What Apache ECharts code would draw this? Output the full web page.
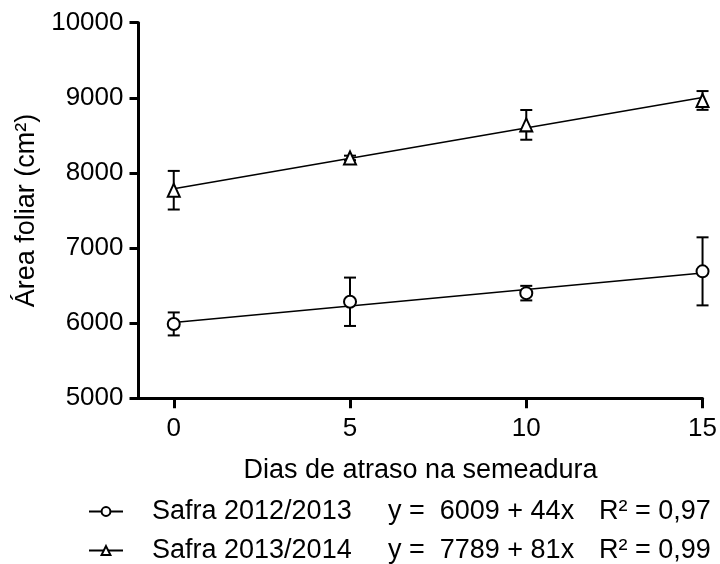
<!DOCTYPE html>
<html><head><meta charset="utf-8">
<script src="https://cdn.jsdelivr.net/npm/echarts@6/dist/echarts.min.js"></script>
<style>html,body{margin:0;padding:0;background:#fff}#c{width:720px;height:564px}</style>
</head><body><div id="c"></div>
<script>
const days = [0, 5, 10, 15];
const mean2012 = [5990, 6285, 6400, 6690];
const sd2012 = [153, 322, 97, 453];
const mean2013 = [7770, 8200, 8640, 8965];
const sd2013 = [257, 30, 198, 125];
const fitDays = [0, 15];
const fit2012 = [6009, 6669];
const fit2013 = [7789, 9004];
const xTicks = [0, 5, 10, 15];
const seriesNames = ['Safra 2012/2013', 'Safra 2013/2014'];
const equations = ['y =  6009 + 44x', 'y =  7789 + 81x'];
const r2Labels = ['R² = 0,97', 'R² = 0,99'];
const FONT = '"Liberation Sans", Arial, Helvetica, sans-serif';
const FS = 26;
const FS2 = 27;

function pairs(xs, ys) { return xs.map((x, i) => [x, ys[i]]); }
function errData(xs, m, s) { return xs.map((x, i) => [x, m[i] - s[i], m[i] + s[i]]); }

function errorSeries(name, data) {
  return {
    name: name, type: 'custom', data: data, z: 3, silent: true,
    encode: { x: 0, y: [1, 2] },
    renderItem: function (params, api) {
      const x = api.value(0);
      const lo = api.coord([x, api.value(1)]);
      const hi = api.coord([x, api.value(2)]);
      const hw = 6;
      const style = { stroke: '#000', lineWidth: 2, fill: null };
      return { type: 'group', children: [
        { type: 'line', shape: { x1: lo[0], y1: lo[1], x2: hi[0], y2: hi[1] }, style: style },
        { type: 'line', shape: { x1: lo[0] - hw, y1: lo[1], x2: lo[0] + hw, y2: lo[1] }, style: style },
        { type: 'line', shape: { x1: hi[0] - hw, y1: hi[1], x2: hi[0] + hw, y2: hi[1] }, style: style }
      ] };
    }
  };
}

function fitSeries(name, ys, sym) {
  return {
    name: name, type: 'line', z: 2, silent: true,
    symbol: sym, symbolSize: 12,
    data: fitDays.map((x, i) => ({ value: [x, ys[i]], symbol: 'none' })),
    lineStyle: { color: '#000', width: 1.5 },
    itemStyle: { color: '#000' }
  };
}

function markerSeries(name, data, sym, size) {
  return {
    name: name, type: 'scatter', z: 5, silent: true,
    symbol: sym, symbolSize: size, data: data,
    itemStyle: { color: '#fff', borderColor: '#000', borderWidth: 2, opacity: 1 }
  };
}

const chart = echarts.init(document.getElementById('c'), null, { renderer: 'canvas' });
chart.setOption({
  animation: false,
  backgroundColor: '#fff',
  textStyle: { fontFamily: FONT, color: '#000' },
  grid: { left: 138.5, right: 17.3, top: 22.7, bottom: 165.7, containLabel: false },
  xAxis: {
    type: 'value', min: -1, max: 15,
    name: 'Dias de atraso na semeadura', nameLocation: 'middle', nameGap: 59,
    nameTextStyle: { fontSize: FS2, fontFamily: FONT, color: '#000' },
    axisLine: { show: true, onZero: false, lineStyle: { color: '#000', width: 3 } },
    axisTick: { show: true, customValues: xTicks, length: 10, lineStyle: { color: '#000', width: 3 } },
    axisLabel: { show: true, customValues: xTicks, margin: 18, fontSize: FS, fontFamily: FONT, color: '#000',
      formatter: function (v) { return String(v); } },
    splitLine: { show: false }
  },
  yAxis: {
    type: 'value', min: 5000, max: 10000, interval: 1000,
    name: 'Área foliar (cm²)', nameLocation: 'middle', nameGap: 73,
    nameTextStyle: { fontSize: FS2, fontFamily: FONT, color: '#000' },
    axisLine: { show: true, onZero: false, lineStyle: { color: '#000', width: 3 } },
    axisTick: { show: true, length: 9, lineStyle: { color: '#000', width: 3 } },
    axisLabel: { show: true, margin: 15, fontSize: FS, fontFamily: FONT, color: '#000',
      formatter: function (v) { return String(v); } },
    splitLine: { show: false }
  },
  legend: {
    data: seriesNames, orient: 'vertical', left: 88, top: 498, padding: 0,
    itemWidth: 34, itemHeight: 11, itemGap: 12, selectedMode: false,
    formatter: function (name) {
      const i = seriesNames.indexOf(name);
      return '{g| }{a|' + name + '}{b|' + equations[i] + '}{c|' + r2Labels[i] + '}';
    },
    textStyle: {
      fontSize: FS2, fontFamily: FONT, color: '#000',
      rich: {
        g: { width: 24, fontSize: FS2, fontFamily: FONT, lineHeight: 26 },
        a: { width: 236, fontSize: FS2, fontFamily: FONT, color: '#000', lineHeight: 26 },
        b: { width: 211, fontSize: FS2, fontFamily: FONT, color: '#000', lineHeight: 26 },
        c: { fontSize: FS2, fontFamily: FONT, color: '#000', lineHeight: 26 }
      }
    }
  },
  series: [
    fitSeries(seriesNames[0], fit2012, 'emptyCircle'),
    fitSeries(seriesNames[1], fit2013, 'emptyTriangle'),
    errorSeries('err2012', errData(days, mean2012, sd2012)),
    errorSeries('err2013', errData(days, mean2013, sd2013)),
    markerSeries('pts2012', pairs(days, mean2012), 'circle', 12),
    markerSeries('pts2013', pairs(days, mean2013), 'triangle', [12, 13])
  ]
});
</script>
</body></html>
